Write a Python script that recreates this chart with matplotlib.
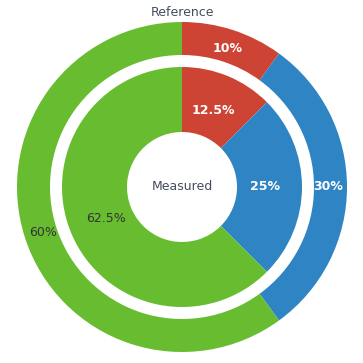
import matplotlib.pyplot as plt

categories = ['red', 'blue', 'green']
reference = [10, 30, 60]
measured = [12.5, 25, 62.5]
ref_labels = ['10%', '30%', '60%']
meas_labels = ['12.5%', '25%', '62.5%']
colors = ['#cd4434', '#2f85c3', '#67bd2f']
text_colors = ['white', 'white', '#333333']
weights = ['bold', 'bold', 'normal']

fig = plt.figure(figsize=(3.63, 3.63), dpi=100)
ax = fig.add_axes([0, 0, 1, 1])
ax.set_aspect('equal')
ax.axis('off')

cx, cy = 182, 176

# outer ring
w, t = ax.pie(reference, colors=colors, radius=165, center=(cx, cy), startangle=90,
              counterclock=False, labels=ref_labels, labeldistance=0.885,
              wedgeprops=dict(width=33, linewidth=0),
              textprops=dict(ha='center', va='center', fontsize=9))
for txt, c, wt in zip(t, text_colors, weights):
    txt.set_color(c)
    txt.set_fontweight(wt)

# inner ring
w2, t2 = ax.pie(measured, colors=colors, radius=120, center=(cx, cy), startangle=90,
                counterclock=False, labels=meas_labels, labeldistance=0.69,
                wedgeprops=dict(width=65, linewidth=0),
                textprops=dict(ha='center', va='center', fontsize=9))
for txt, c, wt in zip(t2, text_colors, weights):
    txt.set_color(c)
    txt.set_fontweight(wt)

ax.set_xlim(0, 363)
ax.set_ylim(0, 363)

ax.text(cx, 363 - 13, 'Reference', ha='center', va='center', fontsize=9, color='#444d5c')
ax.text(cx, cy, 'Measured', ha='center', va='center', fontsize=9, color='#444d5c')

fig.savefig('out.png', dpi=100)
